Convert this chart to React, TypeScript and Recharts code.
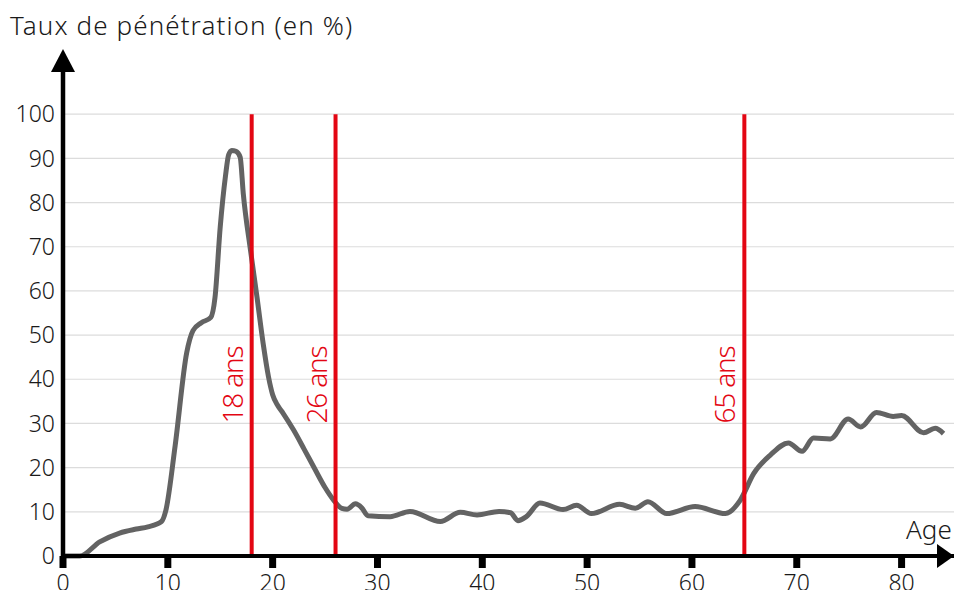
import React from "react";
import {
  LineChart,
  Line,
  XAxis,
  YAxis,
  CartesianGrid,
  ReferenceLine,
  ReferenceDot,
} from "recharts";

// ages (years) and penetration rate (%)
const ages = [
  0, 1.6, 3.5, 5.4, 7, 8.1, 9.4, 9.8, 10.7, 11.8, 12.4, 13.2, 14.1, 14.5,
  15, 15.5, 15.8, 16.1, 16.5, 16.9, 17.2, 17.9, 18.5, 19.1, 19.6, 20, 20.5,
  21, 22, 23, 24, 25, 25.8, 26.6, 27.1, 27.9, 28.5, 29.1, 31.2, 33.1, 36,
  37.9, 39.5, 41.6, 42.7, 43.4, 44.2, 45.5, 47.7, 49, 50.4, 53.1, 54.6, 55.8,
  57.6, 60.3, 63.2, 64.6, 65.9, 67.5, 69.2, 70.5, 71.6, 73.2, 74.9, 76.1,
  77.6, 79.2, 80, 82.1, 83.2, 84,
];
const rates = [
  0, 0, 3.2, 5.2, 6.1, 6.6, 7.8, 10.2, 25, 46, 51, 52.8, 54, 58.5, 74.5, 86,
  90.8, 91.8, 91.6, 90.3, 82, 69, 58.7, 48, 40.6, 36.5, 34, 32.3, 28.5, 24.2,
  19.8, 15.5, 12.7, 10.8, 10.6, 11.8, 10.9, 9.1, 8.9, 10.1, 7.8, 9.9, 9.3,
  10.1, 9.8, 8, 8.9, 12, 10.5, 11.5, 9.6, 11.7, 10.8, 12.3, 9.6, 11.2, 9.6,
  12.6, 18.7, 22.9, 25.6, 23.7, 26.7, 26.5, 31, 29.2, 32.5, 31.6, 31.8, 27.9,
  28.9, 27.7,
];

const xTicks = [0, 10, 20, 30, 40, 50, 60, 70, 80];
const yTicks = [0, 10, 20, 30, 40, 50, 60, 70, 80, 90, 100];
const markers = [
  { age: 18, label: "18 ans" },
  { age: 26, label: "26 ans" },
  { age: 65, label: "65 ans" },
];

const data = ages.map((age, i) => ({ age, rate: rates[i] }));

const FONT = "'Noto Sans', sans-serif";
const RED = "#e30613";

const UpArrow = (props: any) => {
  const { cx, cy } = props;
  return (
    <polygon
      points={`${cx - 12},${cy + 2} ${cx + 12},${cy + 2} ${cx},${cy - 21}`}
      fill="#000"
    />
  );
};

const RightArrow = (props: any) => {
  const { cx, cy } = props;
  return (
    <polygon
      points={`${cx - 17},${cy - 12} ${cx - 17},${cy + 12} ${cx},${cy}`}
      fill="#000"
    />
  );
};

const markerLabel = (text: string) => (props: any) => {
  const { cx, cy } = props;
  const x = cx - 9;
  return (
    <text
      x={x}
      y={cy}
      transform={`rotate(-90 ${x} ${cy})`}
      fill={RED}
      fontFamily={FONT}
      fontSize={28}
      fontWeight={300}
      letterSpacing={-1.2}
      textAnchor="start"
    >
      {text}
    </text>
  );
};

export default function App() {
  return (
    <div
      style={{
        position: "absolute",
        left: 0,
        top: 0,
        width: 954,
        height: 590,
        overflow: "hidden",
        background: "#fff",
      }}
    >
      <div
        style={{
          position: "absolute",
          left: 10,
          top: 12,
          fontFamily: FONT,
          fontSize: 26,
          fontWeight: 300,
          letterSpacing: 1.1,
          lineHeight: 1,
          color: "#1a1a1a",
          whiteSpace: "nowrap",
        }}
      >
        Taux de pénétration (en %)
      </div>
      <div
        style={{
          position: "absolute",
          left: 906,
          top: 516,
          fontFamily: FONT,
          fontSize: 26,
          fontWeight: 300,
          lineHeight: 1,
          color: "#1a1a1a",
        }}
      >
        Age
      </div>
      <LineChart
        width={954}
        height={590}
        data={data}
        margin={{ top: 70, right: 0, left: 0, bottom: 0 }}
      >
        <CartesianGrid
          vertical={false}
          horizontalValues={yTicks}
          stroke="#dcdcdc"
          strokeWidth={1.2}
        />
        <XAxis
          type="number"
          dataKey="age"
          domain={[0, 85]}
          ticks={xTicks}
          height={34}
          axisLine={{ stroke: "#000", strokeWidth: 4 }}
          tickLine={{ stroke: "#000", strokeWidth: 7 }}
          tickSize={12}
          tickMargin={7}
          tick={{ fill: "#1a1a1a", fontSize: 23, fontFamily: FONT, fontWeight: 300 }}
        />
        <YAxis
          type="number"
          domain={[0, 110]}
          ticks={yTicks}
          width={63}
          axisLine={{ stroke: "#000", strokeWidth: 4.5 }}
          tickLine={false}
          tick={{ fill: "#1a1a1a", fontSize: 23, fontFamily: FONT, fontWeight: 300 }}
        />
        <Line
          type="monotone"
          dataKey="rate"
          stroke="#636363"
          strokeWidth={5}
          dot={false}
          strokeLinejoin="round"
          isAnimationActive={false}
        />
        {markers.map((m) => (
          <ReferenceLine
            key={m.age}
            segment={[
              { x: m.age, y: 0 },
              { x: m.age, y: 100 },
            ]}
            stroke={RED}
            strokeWidth={4}
          />
        ))}
        {markers.map((m) => (
          <ReferenceDot
            key={"l" + m.age}
            x={m.age}
            y={30}
            r={0}
            shape={markerLabel(m.label)}
          />
        ))}
        <ReferenceDot x={0} y={110} r={0} shape={UpArrow} />
        <ReferenceDot x={85} y={0} r={0} shape={RightArrow} />
      </LineChart>
    </div>
  );
}
